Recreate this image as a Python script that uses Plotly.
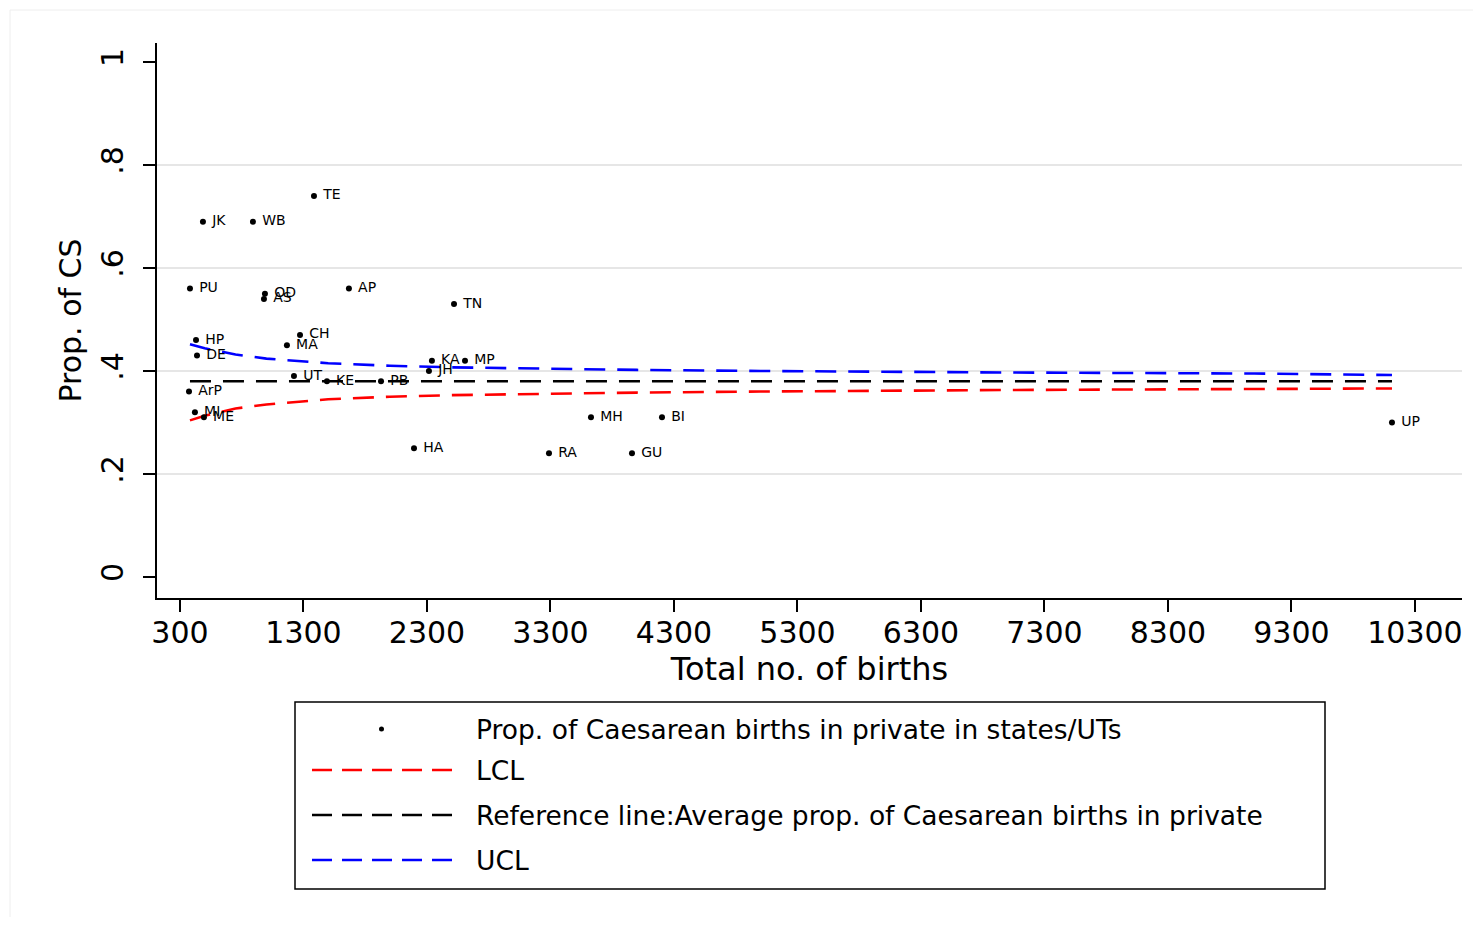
import plotly.graph_objects as go

# ---- data ----
states = ["TE", "JK", "WB", "PU", "OD", "AS", "AP", "TN", "CH", "MA", "HP", "DE",
          "KA", "MP", "JH", "UT", "KE", "PB", "ArP", "MI", "ME", "MH", "BI", "HA",
          "RA", "GU", "UP"]
births = [1385, 486, 891, 381, 988, 980, 1668, 2519, 1272, 1166, 430, 438,
          2340, 2608, 2316, 1223, 1490, 1928, 373, 421, 494, 3628, 4203, 2195,
          3288, 3960, 10114]
prop_cs = [0.74, 0.69, 0.69, 0.56, 0.55, 0.54, 0.56, 0.53, 0.47, 0.45, 0.46, 0.43,
           0.42, 0.42, 0.40, 0.39, 0.38, 0.38, 0.36, 0.32, 0.31, 0.31, 0.31, 0.25,
           0.24, 0.24, 0.30]

limit_x = [381, 500, 750, 1000, 1500, 2000, 2500, 3000, 4000, 5000, 6000, 7000, 8000, 9000, 10114]
ucl = [0.452, 0.444, 0.432, 0.424, 0.415, 0.410, 0.407, 0.405, 0.402, 0.400, 0.398, 0.397, 0.396, 0.395, 0.392]
lcl = [0.304, 0.313, 0.327, 0.335, 0.345, 0.350, 0.353, 0.355, 0.358, 0.360, 0.362, 0.363, 0.364, 0.365, 0.366]
mean_prop = [0.38, 0.38]
mean_x = [381, 10114]

x_ticks = [300, 1300, 2300, 3300, 4300, 5300, 6300, 7300, 8300, 9300, 10300]
y_ticks = [0, 0.2, 0.4, 0.6, 0.8, 1]
y_ticklabels = ["0", ".2", ".4", ".6", ".8", "1"]

legend_labels = ["Prop. of Caesarean births in private in states/UTs", "LCL",
                 "Reference line:Average prop. of Caesarean births in private", "UCL"]

FONT = "DejaVu Sans, Liberation Sans, Arial, sans-serif"
OFF = 8  # page body margin
W, H = 1481 - 2 * OFF, 925 - 2 * OFF
# plot area in screen pixels
SL, SR, ST, SB = 157, 1462, 43, 598


def px_x(px):
    return (px - SL) / (SR - SL)


def px_y(py):
    return (SB - py) / (SB - ST)


DASH = "21px,12px"

fig = go.Figure()

fig.add_trace(go.Scatter(x=limit_x, y=lcl, mode="lines",
                         line=dict(color="#ff0000", width=2.6, dash=DASH),
                         showlegend=False, hoverinfo="skip"))
fig.add_trace(go.Scatter(x=mean_x, y=mean_prop, mode="lines",
                         line=dict(color="black", width=2.6, dash=DASH),
                         showlegend=False, hoverinfo="skip"))
fig.add_trace(go.Scatter(x=limit_x, y=ucl, mode="lines",
                         line=dict(color="#0000ff", width=2.6, dash=DASH),
                         showlegend=False, hoverinfo="skip"))
fig.add_trace(go.Scatter(x=births, y=prop_cs, mode="markers+text",
                         text=["\u00a0" + s for s in states],
                         textposition="middle right",
                         textfont=dict(size=14, color="black", family=FONT),
                         marker=dict(color="black", size=6),
                         showlegend=False))

shapes = []
# gridlines
for gy in [0.2, 0.4, 0.6, 0.8]:
    shapes.append(dict(type="line", xref="paper", yref="y", x0=0, x1=1, y0=gy, y1=gy,
                       line=dict(color="#e6e6e6", width=2), layer="below"))
# outer faint frame
shapes.append(dict(type="rect", xref="paper", yref="paper",
                   x0=px_x(10), x1=px_x(1478), y0=px_y(924), y1=px_y(10),
                   line=dict(color="#eeeeee", width=1), layer="below"))
# legend box
shapes.append(dict(type="rect", xref="paper", yref="paper",
                   x0=px_x(295), x1=px_x(1325), y0=px_y(889), y1=px_y(702),
                   line=dict(color="black", width=1.5)))
# legend symbols
shapes.append(dict(type="circle", xref="paper", yref="paper",
                   x0=px_x(379), x1=px_x(384), y0=px_y(731.5), y1=px_y(726.5),
                   fillcolor="black", line=dict(color="black", width=0)))
for py, col in [(770, "#ff0000"), (815, "black"), (860, "#0000ff")]:
    shapes.append(dict(type="line", xref="paper", yref="paper",
                       x0=px_x(312), x1=px_x(458), y0=px_y(py), y1=px_y(py),
                       line=dict(color=col, width=2.6, dash="20px,10px")))

annotations = []
for py, txt in zip([729, 770, 815, 860], legend_labels):
    annotations.append(dict(xref="paper", yref="paper", x=px_x(474), y=px_y(py),
                            text=txt, showarrow=False, xanchor="left", yanchor="middle",
                            font=dict(size=26.5, color="black", family=FONT)))

fig.update_layout(
    width=W, height=H,
    margin=dict(l=SL - OFF, r=(W + OFF) - SR, t=ST - OFF, b=(H + OFF) - SB, pad=0),
    paper_bgcolor="white", plot_bgcolor="white",
    font=dict(family=FONT, color="black"),
    shapes=shapes, annotations=annotations,
    xaxis=dict(range=[114, 10681], tickmode="array", tickvals=x_ticks,
               ticktext=[str(v) for v in x_ticks],
               showgrid=False, zeroline=False, showline=True, linecolor="black", linewidth=1.5,
               ticks="outside", ticklen=12, tickwidth=1.5, tickcolor="black",
               ticklabelstandoff=-5,
               tickfont=dict(size=30, family=FONT),
               title=dict(text="Total no. of births", font=dict(size=32, family=FONT), standoff=0)),
    yaxis=dict(range=[-0.041, 1.037], tickmode="array", tickvals=y_ticks,
               ticktext=y_ticklabels, tickangle=-90, ticklabelstandoff=8,
               showgrid=False, zeroline=False, showline=True, linecolor="black", linewidth=1.5,
               ticks="outside", ticklen=12, tickwidth=1.5, tickcolor="black",
               tickfont=dict(size=30, family=FONT),
               title=dict(text="Prop. of CS", font=dict(size=30, family=FONT), standoff=5)),
)

fig.write_html("out.html")
